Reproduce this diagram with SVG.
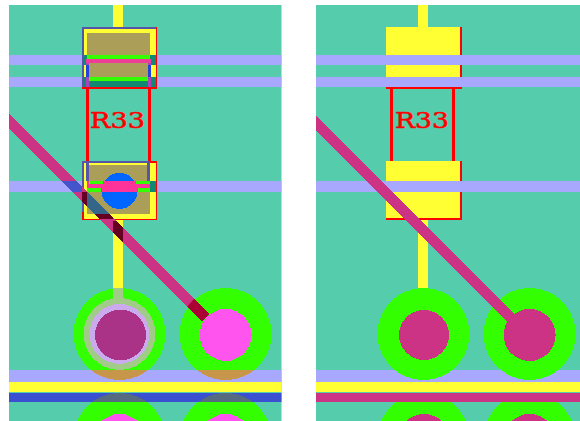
<svg xmlns="http://www.w3.org/2000/svg" width="580" height="421" viewBox="0 0 580 421">
<style>
.bg{fill:#55cdad}.lav{fill:#a8a8ff}.yel{fill:#ffff33}.grn{fill:#33ff00}.red{fill:#ff0000}.mag{fill:#cc3385}.pink{fill:#ff55ee}.kh{fill:#aa9e58}.teal{fill:#118872}.pur{fill:#5555aa}.hot{fill:#ee3c98}.blu{fill:#2244dd}
.diag{fill:none;stroke-width:10}
.t{font-family:"DejaVu Serif",serif;font-size:22px;fill:#ff0000;stroke:#ff0000;stroke-width:.5px}
svg{shape-rendering:crispEdges}
</style>
<defs>
<clipPath id="panelL"><rect x="9" y="5" width="272.500" height="416"/></clipPath>
<clipPath id="panelR"><rect x="316" y="5" width="264" height="416"/></clipPath>
<clipPath id="cKh"><rect x="87" y="192" width="63" height="22"/></clipPath>
<clipPath id="cDark"><rect x="82" y="192" width="5" height="28"/><rect x="87" y="214" width="26" height="5"/><rect x="113" y="221" width="10" height="30"/></clipPath>
<clipPath id="cBand"><rect x="9" y="181" width="73" height="11"/></clipPath>
<clipPath id="cEnd"><circle cx="225.600" cy="334" r="47"/></clipPath>
<clipPath id="upTo370"><rect x="0" y="0" width="290" height="370"/></clipPath>
<clipPath id="to379"><rect x="0" y="370" width="290" height="12"/></clipPath>
<clipPath id="from402"><rect x="0" y="402" width="290" height="19"/></clipPath>
<clipPath id="band394"><rect x="0" y="393" width="290" height="9"/></clipPath>
</defs>
<rect width="580" height="421" fill="#fff"/>
<g id="left-panel" clip-path="url(#panelL)">
<rect class="bg" x="9" y="5" width="272.500" height="416"/>
<rect class="lav" x="9" y="55" width="272.500" height="10"/>
<rect class="lav" x="9" y="77" width="272.500" height="10"/>
<rect class="lav" x="9" y="181" width="272.500" height="11"/>
<rect class="lav" x="9" y="370" width="272.500" height="12"/>
<g id="l-stems"><rect class="yel" x="113" y="5" width="10" height="22"/><rect class="yel" x="113" y="220" width="10" height="68"/></g>
<g id="l-pad1">
<rect class="yel" x="82" y="27" width="74" height="28"/>
<rect class="kh" x="87" y="33" width="63" height="22"/>
<rect class="teal" x="82" y="55" width="74" height="33"/>
<rect class="grn" x="87" y="55" width="63" height="4"/>
<rect class="yel" x="83" y="65" width="3" height="12"/><rect class="yel" x="151" y="65" width="5" height="12"/>
<rect class="kh" x="89" y="63" width="59" height="14"/>
<rect class="grn" x="89" y="77" width="59" height="4"/>
<rect class="hot" x="86" y="59" width="65" height="4"/>
<rect x="86" y="63" width="3" height="25" fill="#aa44bb"/><rect x="148" y="63" width="3" height="25" fill="#aa44bb"/>
<rect class="blu" x="86" y="65" width="3" height="12"/><rect class="blu" x="148" y="65" width="3" height="12"/>
<rect class="pur" x="82" y="27" width="74" height="1.500"/><rect class="pur" x="82" y="27" width="1.500" height="61"/>
<rect class="red" x="155.500" y="27" width="1.500" height="61"/>
<rect class="red" x="82" y="87" width="75" height="1.500"/>
</g>
<g id="l-r33">
<rect class="red" x="86" y="88" width="3" height="73"/><rect class="red" x="148" y="88" width="3" height="73"/>
<text class="t" x="90" y="128" textLength="55" lengthAdjust="spacingAndGlyphs">R33</text>
</g>
<g id="l-pad2">
<rect class="yel" x="82" y="161" width="74" height="59"/>
<rect class="kh" x="87" y="165" width="63" height="49"/>
<rect class="teal" x="150" y="181" width="7" height="11"/>
<circle cx="119.500" cy="191" r="18" fill="#0066ff"/>
<rect x="87" y="181" width="63" height="7" fill="#ff3399"/><rect x="101" y="188" width="37" height="4" fill="#ff3399"/>
<rect class="grn" x="89" y="181" width="14" height="3"/><rect class="grn" x="136" y="181" width="14" height="3"/>
<rect class="grn" x="87" y="188" width="14" height="4"/><rect class="grn" x="138" y="188" width="12" height="4"/>
<rect class="pur" x="86" y="161" width="3" height="20"/><rect class="pur" x="147" y="161" width="3" height="20"/>
<rect class="pur" x="82" y="161" width="68" height="1.500"/><rect class="pur" x="82" y="161" width="1.500" height="51"/>
<rect class="red" x="150" y="161" width="7" height="1.500"/><rect class="red" x="155.500" y="161" width="1.500" height="59"/>
<rect class="red" x="82" y="218.500" width="75" height="1.500"/><rect class="red" x="82" y="212" width="1.500" height="8"/>
</g>
<g id="l-vias">
<circle class="grn" cx="119.500" cy="334" r="46" clip-path="url(#upTo370)"/>
<circle cx="119.500" cy="334" r="36" fill="#a0cc88"/><rect x="113" y="288" width="10" height="12" fill="#a0cc88"/>
<circle cx="119.500" cy="334" r="30" fill="#ccaaee"/>
<circle cx="120.500" cy="335" r="25.500" fill="#aa3388"/>
<circle class="grn" cx="225.600" cy="334" r="46" clip-path="url(#upTo370)"/>
<circle cx="119.500" cy="334" r="46" fill="#c8964a" clip-path="url(#to379)"/>
<circle cx="225.600" cy="334" r="46" fill="#c8964a" clip-path="url(#to379)"/>
</g>
<g id="l-trace">
<path class="diag" d="M0 112L206 318" stroke="#cc3385"/>
<path class="diag" d="M0 112L206 318" stroke="#4455cc" clip-path="url(#cBand)"/>
<path class="diag" d="M0 112L206 318" stroke="#336688" clip-path="url(#cKh)"/>
<path class="diag" d="M0 112L206 318" stroke="#660022" clip-path="url(#cDark)"/>
<path class="diag" d="M0 112L206 318" stroke="#aa0033" clip-path="url(#cEnd)"/>
</g>
<circle class="pink" cx="225.600" cy="335" r="26"/>
<rect class="yel" x="9" y="382" width="272.500" height="10"/>
<rect x="9" y="393" width="272.500" height="9" fill="#3a50d0"/>
<g id="l-vias2">
<circle class="grn" cx="119.500" cy="439" r="46" clip-path="url(#from402)"/><circle class="grn" cx="225.600" cy="439" r="46" clip-path="url(#from402)"/>
<circle cx="119.500" cy="439" r="46" fill="#566a80" clip-path="url(#band394)"/><circle cx="225.600" cy="439" r="46" fill="#566a80" clip-path="url(#band394)"/>
<circle class="pink" cx="119.500" cy="440" r="26"/><circle class="pink" cx="225.600" cy="440" r="26"/>
</g>
</g>
<g id="right-panel" clip-path="url(#panelR)">
<rect class="bg" x="316" y="5" width="264" height="416"/>
<g id="r-stems"><rect class="yel" x="418" y="5" width="10" height="22"/><rect class="yel" x="418" y="218" width="10" height="70"/></g>
<g id="r-pad1">
<rect class="yel" x="386" y="27" width="74" height="60"/>
<rect class="red" x="460" y="27" width="2" height="60"/>
</g>
<rect class="lav" x="316" y="55" width="264" height="10"/>
<rect class="lav" x="316" y="77" width="264" height="10"/>
<g id="r-r33">
<rect class="red" x="386" y="87" width="76" height="1.500"/>
<rect class="red" x="390" y="88" width="3" height="73"/><rect class="red" x="452" y="88" width="3" height="73"/>
<text class="t" x="395" y="128" textLength="54" lengthAdjust="spacingAndGlyphs">R33</text>
</g>
<g id="r-pad2">
<rect class="yel" x="386" y="161" width="74" height="57"/>
<rect class="red" x="460" y="161" width="2" height="59"/><rect class="red" x="386" y="218" width="76" height="2"/>
</g>
<rect class="lav" x="316" y="181" width="264" height="11"/>
<rect class="lav" x="316" y="370" width="264" height="12"/>
<g id="r-vias">
<circle class="grn" cx="423.500" cy="334" r="46"/><circle class="grn" cx="529.600" cy="334" r="46"/>
<circle class="mag" cx="424" cy="335" r="25"/><circle class="mag" cx="529.600" cy="335" r="26"/>
</g>
<path class="diag" d="M305 112L511 318" stroke="#cc3385"/>
<rect class="yel" x="316" y="382" width="264" height="10"/>
<rect class="mag" x="316" y="393" width="264" height="9"/>
<g id="r-vias2" clip-path="url(#from402)" transform="translate(305 0)">
<circle class="grn" cx="118.500" cy="439" r="46"/><circle class="grn" cx="224.600" cy="439" r="46"/>
<circle class="mag" cx="119" cy="440" r="26"/><circle class="mag" cx="224.600" cy="440" r="26"/>
</g>
</g>
</svg>
